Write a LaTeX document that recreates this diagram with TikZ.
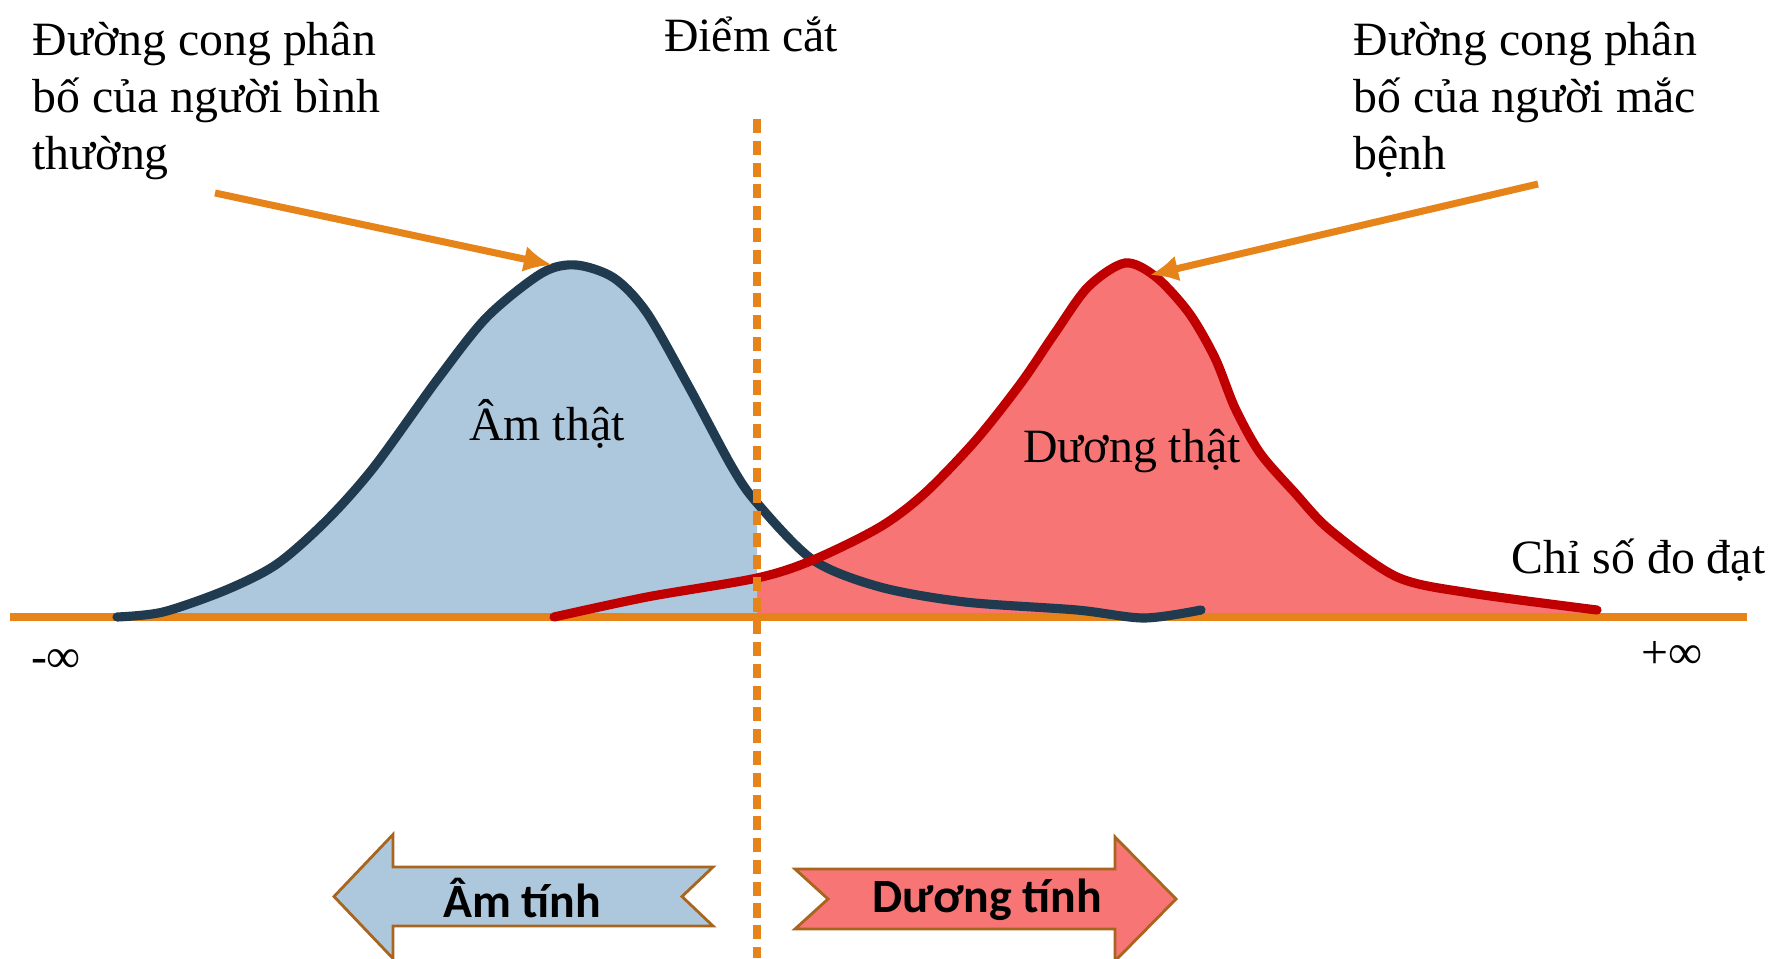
\documentclass[tikz,border=0pt]{standalone}
\usepackage{fontspec}
\setmainfont{Liberation Serif}
\newfontfamily\bandfont{Carlito}
\usetikzlibrary{arrows.meta}
\definecolor{axisorange}{RGB}{230,132,26}
\definecolor{normfill}{RGB}{173,200,221}
\definecolor{normdark}{RGB}{32,58,79}
\definecolor{sickfill}{RGB}{247,117,117}
\definecolor{sickdark}{RGB}{192,0,0}
\definecolor{bandedge}{RGB}{168,101,30}

\begin{document}
\begin{tikzpicture}[
  lbl/.style={inner sep=0pt,font=\fontsize{13.6}{16.1}\selectfont},
  pointer/.style={draw=axisorange,line width=2pt,-{Latex[length=8pt,width=7.5pt]}},
  curve/.style={line width=2.6pt,line cap=round},
  band/.style={draw=bandedge,line width=0.8pt,line join=miter},
  bandtxt/.style={inner sep=0pt,font=\bandfont\bfseries\fontsize{13.6}{16}\selectfont}
]
\useasboundingbox (0,0) rectangle (17.73,9.58);

\begin{scope}
\clip (7.57,0) rectangle (17.73,9.58);
\fill[sickfill] plot[smooth] coordinates {(5.54,3.41) (6.47,3.61) (7.57,3.80) (8.13,3.98) (8.80,4.31) (9.25,4.65) (9.76,5.18) (10.21,5.75) (10.55,6.25) (10.88,6.71) (11.25,6.95) (11.56,6.81) (11.89,6.45) (12.15,6.00) (12.35,5.50) (12.60,5.05) (12.95,4.65) (13.30,4.28) (13.97,3.81) (14.70,3.65) (15.97,3.48)} -- (15.97,3.41) -- cycle;
\end{scope}
\begin{scope}
\clip (0,0) rectangle (7.57,9.58);
\fill[normfill] plot[smooth] coordinates {(1.17,3.41) (1.63,3.46) (2.26,3.68) (2.77,3.94) (3.27,4.38) (3.74,4.91) (4.37,5.78) (4.87,6.41) (5.42,6.85) (5.76,6.93) (6.14,6.80) (6.47,6.45) (6.89,5.71) (7.32,4.91) (7.57,4.55) (8.13,3.98) (8.80,3.71)} -- (8.80,3.41) -- cycle;
\end{scope}

\draw[axisorange,line width=2pt] (0.10,3.41) -- (17.47,3.41);
\draw[curve,normdark] plot[smooth] coordinates {(1.17,3.41) (1.63,3.46) (2.26,3.68) (2.77,3.94) (3.27,4.38) (3.74,4.91) (4.37,5.78) (4.87,6.41) (5.42,6.85) (5.76,6.93) (6.14,6.80) (6.47,6.45) (6.89,5.71) (7.32,4.91) (7.57,4.55) (8.13,3.98) (8.80,3.71) (9.65,3.56) (10.77,3.48) (11.44,3.40) (12.01,3.48)};
\draw[curve,sickdark] plot[smooth] coordinates {(5.54,3.41) (6.47,3.61) (7.57,3.80) (8.13,3.98) (8.80,4.31) (9.25,4.65) (9.76,5.18) (10.21,5.75) (10.55,6.25) (10.88,6.71) (11.25,6.95) (11.56,6.81) (11.89,6.45) (12.15,6.00) (12.35,5.50) (12.60,5.05) (12.95,4.65) (13.30,4.28) (13.97,3.81) (14.70,3.65) (15.97,3.48)};
\draw[axisorange,line width=2pt,dash pattern=on 4pt off 2.2pt] (7.57,8.39) -- (7.57,0);

\node[lbl,align=left,anchor=north west] (normtxt) at (0.32,9.36) {Đường cong phân\\bố của người bình\\thường};
\node[lbl,align=left,anchor=north west] (sicktxt) at (13.53,9.36) {Đường cong phân\\bố của người mắc\\bệnh};
\node[lbl,anchor=base] (cutoff) at (7.51,9.06) {Điểm cắt};
\node[lbl,anchor=base] (truneg) at (5.47,5.18) {Âm thật};
\node[lbl,anchor=base] (trupos) at (11.32,4.95) {Dương thật};
\node[lbl,anchor=base west] (measure) at (15.11,3.85) {Chỉ số đo đạt};
\node[lbl,anchor=base] (minf) at (0.56,2.86) {-∞};
\node[lbl,anchor=base] (pinf) at (16.72,2.90) {+∞};

\coordinate (normfrom) at (2.15,7.65);
\coordinate (normpeak) at (5.52,6.93);
\coordinate (sickfrom) at (15.38,7.74);
\coordinate (sickpeak) at (11.50,6.83);
\draw[pointer] (normfrom) -- (normpeak);
\draw[pointer] (sickfrom) -- (sickpeak);

\draw[band,fill=normfill] (3.34,0.615) -- (3.93,1.235) -- (3.93,0.91) -- (7.13,0.91) -- (6.82,0.615) -- (7.13,0.32) -- (3.93,0.32) -- (3.93,-0.005) -- cycle;
\draw[band,fill=sickfill] (11.76,0.59) -- (11.15,1.21) -- (11.15,0.89) -- (7.95,0.89) -- (8.28,0.59) -- (7.95,0.29) -- (11.15,0.29) -- (11.15,-0.03) -- cycle;
\node[bandtxt] (amtinh) at (5.22,0.60) {Âm tính};
\node[bandtxt] (duongtinh) at (9.87,0.58) {Dương tính};
\end{tikzpicture}
\end{document}
